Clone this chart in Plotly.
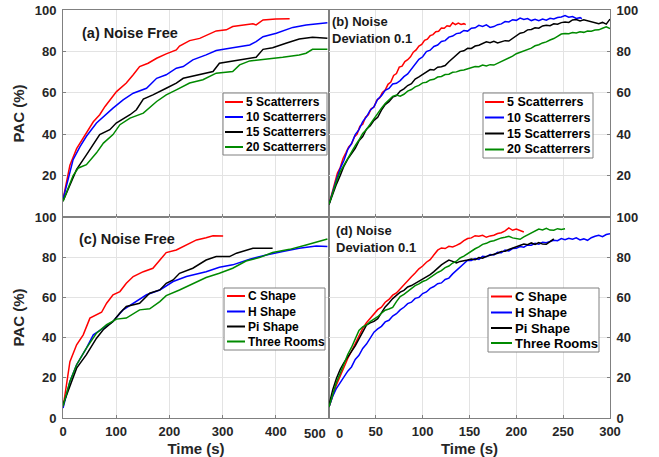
import plotly.graph_objects as go

# ---------------- data (time s, PAC %) ----------------
a_5 = [[0, 8.4], [13, 25], [25.6, 33], [44, 40.6], [57, 46], [69, 49.4], [79, 53.4], [100.6, 60.6],
       [119, 64.7], [132, 68.7], [144, 72.7], [160, 74.3], [176, 76.7], [194, 78.8], [213, 80.7],
       [219, 82.6], [238, 85.2], [257, 86.3], [288, 89.9], [307, 90.4], [319, 92], [357, 93.3],
       [363, 92.8], [376, 95.2], [400, 95.7], [426, 95.8]]
a_10 = [[0, 8.4], [19, 27.7], [32, 34], [44, 39], [63, 45.4], [76, 48.6], [94, 52.6], [113, 56.6],
        [132, 59.8], [157, 62.2], [176, 67], [194, 68.7], [213, 71.9], [226, 72.7], [244, 75.9],
        [269, 78.3], [288, 80.4], [319, 81.8], [351, 83.1], [363, 84.7], [376, 87.1], [401, 88.8],
        [413, 90], [432, 91.6], [457, 92.8], [497, 93.9]]
a_15 = [[0, 7.6], [25.6, 23], [44, 30], [69, 39.8], [88, 42.2], [100, 45.4], [126, 49.4], [138, 51.8],
        [151, 57], [169, 59], [194, 62.2], [213, 64.7], [226, 67], [257, 68.7], [282, 70.3],
        [294, 74.3], [319, 75.4], [351, 76.7], [363, 77.2], [376, 81], [394, 81.8], [419, 83.9],
        [444, 86], [469, 86.8], [497, 86.3]]
a_20 = [[0, 7.6], [19, 20], [29, 23.7], [44, 25.3], [63, 31], [76, 35.7], [94, 39.8], [107, 44.6],
        [126, 47.8], [151, 50.2], [176, 55.8], [194, 59], [213, 61.4], [238, 64.7], [263, 66.3],
        [288, 69.5], [319, 70.3], [332, 73.5], [351, 75.4], [382, 76.2], [413, 77.2], [444, 78.3],
        [457, 79.1], [469, 81], [497, 81]]

b_5 = [[0, 6.1], [3, 11.5], [6, 16.8], [9, 21.2], [12, 23.9], [15, 28.3], [18, 31.0], [21, 33.9],
       [24, 35.2], [27, 38.6], [30, 40.1], [33, 43.9], [36, 44.8], [39, 48.2], [42, 49.4], [45, 52.3],
       [48, 53.1], [51, 56.4], [54, 57.5], [57, 60.2], [60, 61.3], [63, 64.1], [66, 65.2], [69, 68.4],
       [72, 69.3], [75, 72.4], [78, 72.9], [81, 75.1], [84, 76.0], [87, 77.4], [90, 79.6], [93, 80.7],
       [96, 82.6], [99, 83.4], [102, 85.3], [105, 85.9], [108, 87.6], [111, 88.1], [114, 89.5],
       [117, 89.7], [120, 91.3], [123, 91.2], [126, 92.4], [129, 92.1], [132, 93.8], [135, 92.9],
       [138, 93.7], [141, 93.0], [144, 93.4], [146, 92.9]]
b_10 = [[0, 6.1], [4, 12.6], [8, 18.1], [12, 23.5], [16, 27.4], [20, 32.6], [24, 35.4], [28, 39.8],
        [32, 42.2], [36, 46.1], [40, 48.4], [44, 51.6], [48, 53.2], [52, 56.9], [56, 58.6], [60, 61.2],
        [64, 62.1], [68, 64.3], [72, 64.6], [76, 65.9], [80, 67.8], [84, 69.1], [88, 71.4], [92, 73.6],
        [96, 76.2], [100, 77.4], [104, 79.9], [108, 80.6], [112, 82.4], [116, 83.1], [120, 84.8],
        [124, 85.2], [128, 86.9], [132, 87.4], [136, 88.6], [140, 88.9], [144, 90.1], [148, 89.8],
        [152, 91.2], [156, 91.4], [160, 92.6], [164, 92.1], [168, 92.8], [172, 91.6], [176, 92.0],
        [180, 92.9], [184, 93.3], [188, 94.4], [192, 94.2], [196, 95.3], [200, 95.0], [204, 96.1],
        [208, 95.4], [212, 95.9], [216, 94.9], [220, 95.5], [224, 94.8], [228, 95.6], [232, 95.1],
        [236, 96.0], [240, 95.7], [244, 96.4], [248, 96.6], [252, 97.3], [256, 96.5], [260, 96.8],
        [264, 95.9], [268, 96.3], [270, 95.8]]
b_15 = [[0, 6.1], [4, 11.3], [8, 15.9], [12, 20.1], [16, 24.6], [20, 28.0], [24, 30.9], [28, 33.2],
        [32, 36.8], [36, 38.9], [40, 42.4], [44, 44.1], [48, 46.7], [52, 48.2], [56, 51.6], [60, 54.3],
        [64, 55.7], [68, 57.9], [72, 58.6], [76, 60.8], [80, 61.9], [84, 63.5], [88, 64.4], [92, 66.6],
        [96, 67.7], [100, 68.9], [104, 69.8], [108, 71.2], [112, 71.0], [116, 72.4], [120, 72.6],
        [124, 73.2], [128, 75.0], [132, 76.8], [136, 78.4], [140, 79.9], [144, 80.3], [148, 81.5],
        [152, 81.4], [156, 82.6], [160, 83.0], [164, 83.9], [168, 84.6], [172, 84.2], [176, 84.9],
        [180, 84.1], [184, 84.8], [188, 85.2], [192, 85.0], [196, 86.3], [200, 87.5], [204, 88.8],
        [208, 89.2], [212, 90.4], [216, 90.6], [220, 91.4], [224, 91.2], [228, 92.3], [232, 92.6],
        [236, 92.4], [240, 93.3], [244, 93.1], [248, 93.9], [252, 94.2], [256, 94.0], [260, 95.2],
        [264, 95.4], [268, 94.7], [272, 95.3], [276, 94.9], [280, 94.4], [284, 94.1], [288, 93.4],
        [292, 94.0], [296, 93.2], [300, 95.6]]
b_20 = [[0, 6.1], [4, 12.2], [8, 17.3], [12, 21.9], [16, 25.2], [20, 28.6], [24, 31.8], [28, 34.5],
        [32, 37.2], [36, 40.4], [40, 42.3], [44, 45.0], [48, 47.4], [52, 50.1], [56, 52.6], [60, 54.8],
        [64, 56.5], [68, 58.3], [72, 58.9], [76, 58.4], [80, 59.3], [84, 60.8], [88, 61.6], [92, 62.9],
        [96, 63.6], [100, 64.8], [104, 65.1], [108, 66.2], [112, 66.5], [116, 67.6], [120, 67.9],
        [124, 68.8], [128, 69.0], [132, 69.9], [136, 70.1], [140, 70.8], [144, 71.0], [148, 71.6],
        [152, 71.9], [156, 72.7], [160, 72.6], [164, 73.4], [168, 73.0], [172, 73.6], [176, 73.4],
        [180, 74.2], [184, 75.1], [188, 76.0], [192, 76.9], [196, 77.7], [200, 78.9], [204, 79.5],
        [208, 80.1], [212, 81.0], [216, 81.6], [220, 82.7], [224, 83.2], [228, 84.1], [232, 84.6],
        [236, 85.5], [240, 86.2], [244, 87.3], [248, 88.4], [252, 88.7], [256, 88.5], [260, 89.1],
        [264, 88.9], [268, 89.5], [272, 89.2], [276, 89.8], [280, 89.7], [284, 90.3], [288, 90.4],
        [292, 91.2], [296, 91.9], [300, 91.0]]

c_c = [[0, 5], [13, 28], [25.6, 36.4], [38, 41.4], [50.6, 49.7], [63, 51.3], [72.5, 52.6], [82, 57.1],
       [94, 61.3], [107, 62.9], [119, 67], [132, 70.4], [151, 72.8], [169, 74.5], [182, 78.6],
       [194, 82.3], [213, 83.6], [232, 86.1], [251, 88.6], [269, 89.7], [282, 90.7], [301, 90.6]]
c_h = [[0, 5], [13, 18.2], [25.6, 26.5], [44, 34.8], [57, 41.4], [75.6, 44.7], [94, 48], [113, 53.8],
       [132, 57.1], [157, 61.3], [182, 63.7], [207, 67.9], [232, 70.4], [269, 72.8], [294, 75],
       [319, 76.2], [351, 79], [382, 81.1], [413, 82.8], [444, 84.4], [476, 85.6], [497, 85.3]]
c_pi = [[0, 6.6], [13, 15.7], [25.6, 24.8], [44, 31.5], [63, 39.7], [75.6, 43.9], [94, 48], [107, 52.2],
        [119, 55.5], [144, 57.1], [163, 62.1], [182, 63.7], [194, 67], [207, 68.7], [219, 72],
        [244, 74.5], [269, 78.6], [288, 80.3], [313, 80.3], [326, 82], [357, 84.4], [394, 84.4]]
c_3r = [[0, 5.8], [13, 18.2], [25.6, 26.5], [44, 34.8], [63, 42.2], [82, 46.4], [100.6, 49.2],
        [119, 49.7], [144, 53.8], [163, 54.3], [182, 57.9], [194, 60.9], [219, 63.7], [244, 67],
        [269, 69.9], [294, 72], [319, 74.5], [344, 78.1], [369, 79.8], [394, 82.3], [426, 83.9],
        [457, 86.1], [482, 88.1], [497, 89.1]]

d_c = [[0, 5.5], [4, 11.4], [8, 16.6], [12, 20.9], [16, 25.4], [20, 29.6], [24, 33.2], [28, 37.1],
       [32, 40.7], [36, 44.6], [40, 47.4], [44, 49.6], [48, 51.3], [52, 53.9], [56, 55.1], [60, 57.6],
       [64, 59.0], [68, 61.1], [72, 62.2], [76, 64.3], [80, 66.0], [84, 68.4], [88, 70.3], [92, 72.1],
       [96, 74.2], [100, 75.6], [104, 77.5], [108, 78.8], [112, 81.2], [116, 83.5], [120, 84.6],
       [124, 84.3], [128, 85.4], [132, 85.1], [136, 85.9], [140, 86.8], [144, 88.2], [148, 89.3],
       [152, 89.6], [156, 90.7], [160, 90.4], [164, 90.9], [168, 89.9], [172, 90.6], [176, 90.9],
       [180, 91.8], [184, 92.2], [188, 93.1], [192, 94.6], [196, 93.4], [200, 94.0], [204, 93.1],
       [208, 92.5]]
d_h = [[0, 5.5], [4, 10.9], [8, 14.8], [12, 17.6], [16, 20.5], [20, 23.3], [24, 25.4], [28, 29.1],
       [32, 31.2], [36, 34.6], [40, 36.8], [44, 39.9], [48, 42.7], [52, 44.3], [56, 45.6], [60, 47.8],
       [64, 48.6], [68, 50.7], [72, 51.9], [76, 53.8], [80, 55.1], [84, 56.9], [88, 57.6], [92, 59.5],
       [96, 60.0], [100, 61.9], [104, 62.7], [108, 64.5], [112, 65.4], [116, 66.8], [120, 67.2],
       [124, 68.9], [128, 69.6], [132, 71.7], [136, 73.5], [140, 75.4], [144, 77.2], [148, 78.5],
       [152, 78.4], [156, 79.3], [160, 78.9], [164, 80.4], [168, 80.2], [172, 81.3], [176, 81.1],
       [180, 82.4], [184, 82.2], [188, 83.5], [192, 83.1], [196, 84.3], [200, 84.4], [204, 85.3],
       [208, 85.0], [212, 86.1], [216, 86.0], [220, 86.9], [224, 86.5], [228, 87.4], [232, 87.2],
       [236, 88.0], [240, 88.4], [244, 88.2], [248, 89.3], [252, 88.7], [256, 89.4], [260, 88.9],
       [264, 89.6], [268, 88.6], [272, 89.1], [276, 88.4], [280, 89.7], [284, 90.4], [288, 90.9],
       [292, 90.2], [296, 91.3], [300, 91.7]]
d_pi = [[0, 6.4], [4, 14.1], [8, 19.8], [12, 24.2], [16, 27.6], [20, 30.4], [24, 33.5], [28, 35.9],
        [32, 39.4], [36, 42.8], [40, 46.2], [44, 47.3], [48, 48.1], [52, 49.4], [56, 52.6], [60, 55.3],
        [64, 57.2], [68, 59.4], [72, 61.0], [76, 62.6], [80, 63.5], [84, 65.2], [88, 65.9], [92, 67.0],
        [96, 67.8], [100, 68.9], [104, 70.1], [108, 71.3], [112, 72.8], [116, 74.6], [120, 76.2],
        [124, 77.4], [128, 78.6], [132, 77.9], [136, 77.2], [140, 77.9], [144, 78.1], [148, 78.6],
        [152, 79.1], [156, 78.7], [160, 79.8], [164, 79.5], [168, 80.4], [172, 80.9], [176, 81.6],
        [180, 82.0], [184, 82.9], [188, 83.0], [192, 83.8], [196, 84.5], [200, 85.1], [204, 85.9],
        [208, 86.5], [212, 86.2], [216, 87.1], [220, 86.4], [224, 87.3], [228, 86.5], [232, 86.4],
        [236, 87.7], [240, 89.1]]
d_3r = [[0, 5.5], [4, 12.4], [8, 17.9], [12, 22.3], [16, 27.0], [20, 31.6], [24, 35.1], [28, 39.4],
        [32, 43.6], [36, 45.4], [40, 46.3], [44, 48.0], [48, 49.2], [52, 50.4], [56, 52.1], [60, 53.6],
        [64, 54.2], [68, 55.0], [72, 57.9], [76, 60.4], [80, 61.5], [84, 63.1], [88, 64.6], [92, 65.9],
        [96, 66.7], [100, 67.9], [104, 68.6], [108, 69.9], [112, 70.8], [116, 72.4], [120, 73.3],
        [124, 74.8], [128, 75.6], [132, 77.1], [136, 78.0], [140, 79.6], [144, 80.5], [148, 81.8],
        [152, 83.0], [156, 84.2], [160, 85.1], [164, 86.4], [168, 86.9], [172, 87.8], [176, 88.2],
        [180, 88.9], [184, 89.6], [188, 89.9], [192, 90.4], [196, 89.6], [200, 89.2], [204, 88.9],
        [208, 90.1], [212, 91.0], [216, 91.8], [220, 92.9], [224, 94.0], [228, 93.6], [232, 94.4],
        [236, 93.5], [240, 93.4], [244, 94.2], [248, 93.8], [252, 94.1]]

scatter_names = ["5 Scatterrers", "10 Scatterrers", "15 Scatterrers", "20 Scatterrers"]
shape_names = ["C Shape", "H Shape", "Pi Shape", "Three Rooms"]
colors = ["#ff0000", "#0000ff", "#000000", "#008a00"]

left_ticks = [0, 100, 200, 300, 400, 500]
left_ticktext = ["0", "100", "200", "300", "400", ""]     # "500" drawn right-aligned below
right_ticks = [0, 50, 100, 150, 200, 250, 300]
right_ticktext = ["", "50", "100", "150", "200", "250", "300"]  # "0" drawn shifted below
top_yticks = [20, 40, 60, 80, 100]
bot_yticks = [0, 20, 40, 60, 80, 100]

FONT = "Liberation Sans, Arial, sans-serif"
AX = "#262626"
FRAME = "#808080"
GRID = "#e3e3e3"
W, H = 659, 457

fig = go.Figure()


def add(pts, name, color, xa, ya):
    fig.add_trace(go.Scatter(
        x=[p[0] for p in pts], y=[p[1] for p in pts], mode="lines", name=name,
        line=dict(color=color, width=1.5), xaxis=xa, yaxis=ya, showlegend=False,
        hoverinfo="skip"))


for pts, nm, col in zip([a_5, a_10, a_15, a_20], scatter_names, colors):
    add(pts, nm, col, "x", "y")
for pts, nm, col in zip([b_5, b_10, b_15, b_20], scatter_names, colors):
    add(pts, nm, col, "x2", "y2")
for pts, nm, col in zip([c_c, c_h, c_pi, c_3r], shape_names, colors):
    add(pts, nm, col, "x3", "y3")
for pts, nm, col in zip([d_c, d_h, d_pi, d_3r], shape_names, colors):
    add(pts, nm, col, "x4", "y4")

xl = [63 / W, 329 / W]
xr = [329 / W, 610 / W]
yt = [1 - 217 / H, 1 - 10 / H]
yb = [1 - 418 / H, 1 - 217 / H]

tickfont = dict(family=FONT, size=13, color=AX, weight="bold")
titlefont = dict(family=FONT, size=15, color=AX, weight="bold")


def xax(dom, anchor, rng, tv, tt, show, title=None):
    d = dict(domain=dom, anchor=anchor, range=rng, tickvals=tv, ticktext=tt,
             showticklabels=show, tickfont=tickfont, showgrid=True, gridcolor=GRID,
             zeroline=False, showline=True, linecolor=FRAME, linewidth=1, mirror=True,
             ticks="inside", ticklen=3, tickcolor=FRAME, ticklabelstandoff=1,
             automargin=False)
    if title:
        d["title"] = dict(text=title, font=titlefont, standoff=5)
    return d


def yax(dom, anchor, tv, side, title=None):
    d = dict(domain=dom, anchor=anchor, range=[0, 100], tickvals=tv, side=side,
             tickfont=tickfont, showgrid=True, gridcolor=GRID, zeroline=False,
             showline=True, linecolor=FRAME, linewidth=1, mirror=True,
             ticks="inside", ticklen=3, tickcolor=FRAME, ticklabelstandoff=3,
             automargin=False)
    if title:
        d["title"] = dict(text=title, font=titlefont, standoff=6)
    return d


fig.update_layout(
    width=W, height=H, margin=dict(l=0, r=0, t=0, b=0, autoexpand=False),
    paper_bgcolor="white", plot_bgcolor="white", showlegend=False,
    xaxis=xax(xl, "y", [0, 500], left_ticks, left_ticktext, False),
    yaxis=yax(yt, "x", top_yticks, "left", "PAC (%)"),
    xaxis2=xax(xr, "y2", [0, 300], right_ticks, right_ticktext, False),
    yaxis2=yax(yt, "x2", top_yticks, "right"),
    xaxis3=xax(xl, "y3", [0, 500], left_ticks, left_ticktext, True, "Time (s)"),
    yaxis3=yax(yb, "x3", bot_yticks, "left", "PAC (%)"),
    xaxis4=xax(xr, "y4", [0, 300], right_ticks, right_ticktext, True, "Time (s)"),
    yaxis4=yax(yb, "x4", bot_yticks, "right"),
)

# tick labels at the shared corner, nudged apart as in the original
fig.add_annotation(text="500", x=328 / W, y=1 - 433 / H, xref="paper", yref="paper",
                   xanchor="right", yanchor="middle", showarrow=False, font=tickfont)
fig.add_annotation(text="0", x=339 / W, y=1 - 433 / H, xref="paper", yref="paper",
                   xanchor="center", yanchor="middle", showarrow=False, font=tickfont)

# ---- panel labels ----
ann_font_a = dict(family=FONT, size=14.5, color="#1a1a1a", weight="bold")
ann_font_b = dict(family=FONT, size=13, color="#1a1a1a", weight="bold")
fig.add_annotation(text="(a) Noise Free", x=80 / W, y=1 - 33 / H, xref="paper", yref="paper",
                   xanchor="left", yanchor="middle", showarrow=False, font=ann_font_a)
fig.add_annotation(text="(b) Noise<br>Deviation 0.1", x=330 / W, y=1 - 12 / H, xref="paper",
                   yref="paper", xanchor="left", yanchor="top", align="left", showarrow=False,
                   font=ann_font_b)
fig.add_annotation(text="(c) Noise Free", x=77 / W, y=1 - 239 / H, xref="paper", yref="paper",
                   xanchor="left", yanchor="middle", showarrow=False, font=ann_font_a)
fig.add_annotation(text="(d) Noise<br>Deviation 0.1", x=334 / W, y=1 - 221 / H, xref="paper",
                   yref="paper", xanchor="left", yanchor="top", align="left", showarrow=False,
                   font=ann_font_b)


# ---- compact MATLAB-style legends (box, sample line, label) ----
def legend_box(x0, x1, y0, y1, rows, line_x0, line_x1, text_x, names, fsize):
    fig.add_shape(type="rect", xref="paper", yref="paper", x0=x0 / W, x1=x1 / W,
                  y0=1 - y1 / H, y1=1 - y0 / H, line=dict(color=FRAME, width=1),
                  fillcolor="white", layer="above")
    for ry, nm, col in zip(rows, names, colors):
        fig.add_shape(type="line", xref="paper", yref="paper", x0=line_x0 / W, x1=line_x1 / W,
                      y0=1 - ry / H, y1=1 - ry / H, line=dict(color=col, width=2), layer="above")
        fig.add_annotation(text=nm, x=text_x / W, y=1 - ry / H, xref="paper", yref="paper",
                           xanchor="left", yanchor="middle", showarrow=False,
                           font=dict(family=FONT, size=fsize, color="black", weight="bold"))


legend_box(223, 327, 93, 155, [102, 117, 132, 147], 225, 243, 244, scatter_names, 12)
legend_box(483, 593, 93, 158, [102, 117.5, 133.5, 149.5], 485, 504, 505, scatter_names, 12.5)
legend_box(224, 325, 288, 350, [296, 311.5, 326.5, 341.5], 227, 245, 246, shape_names, 12)
legend_box(488, 599, 288, 352, [296.5, 312.5, 328, 343], 491, 512, 513, shape_names, 13)

# the page body default margin (8px) would offset the figure inside the 659x457 window
fig.write_html("out.html", config={"displayModeBar": False},
               post_script="document.body.style.margin='0px';")
